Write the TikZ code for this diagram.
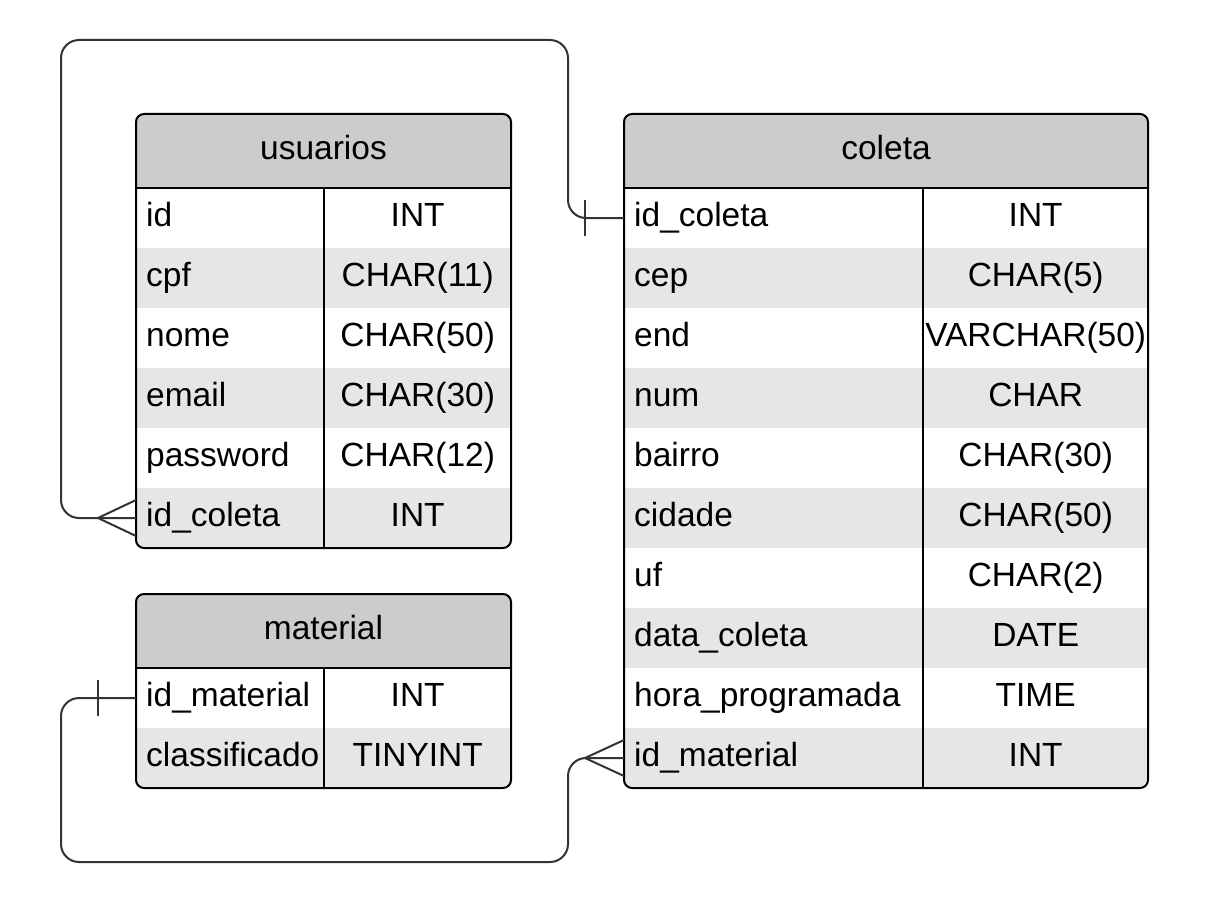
\documentclass[tikz,border=0pt]{standalone}
\usepackage{fontspec}
\setmainfont{Liberation Sans}
\definecolor{hdr}{HTML}{CCCCCC}
\definecolor{alt}{HTML}{E6E6E6}
\definecolor{conn}{HTML}{333333}
\newcommand\cellfont{\fontsize{33.5}{40}\selectfont}
\begin{document}
\begin{tikzpicture}[x=1pt,y=-1pt,
  lcell/.style={anchor=west, inner xsep=10pt, inner ysep=0pt, minimum height=60pt, text height=24pt, text depth=6.5pt, align=left, font=\cellfont},
  rcell/.style={anchor=west, inner sep=0pt, minimum height=60pt, text height=24pt, text depth=6.5pt, font=\cellfont},
  hcell/.style={fill=hdr, inner sep=0pt, minimum height=74pt, text height=24pt, text depth=6.5pt, font=\cellfont},
  tblline/.style={draw=black, line width=2pt},
  connline/.style={draw=conn, line width=2pt},
]
\useasboundingbox (0,0) rectangle (1206,923);

% ---------- usuarios ----------
\begin{scope}
\clip[rounded corners=8pt] (136,114) rectangle (511,548);
\node[hcell, minimum width=375pt] (usuarios) at (323.5,151) {usuarios};
\foreach \a/\b/\f [count=\i] in {id/INT/white, cpf/CHAR(11)/alt, nome/CHAR(50)/white, email/CHAR(30)/alt, password/CHAR(12)/white, id\_coleta/INT/alt}{
  \node[lcell, fill=\f, text width=168pt] (u\i) at (136,{158+60*\i}) {\a};
  \node[rcell, fill=\f, minimum width=187pt] (u\i t) at (324,{158+60*\i}) {\b};
}
\end{scope}
\draw[tblline, rounded corners=8pt] (136,114) rectangle (511,548);
\draw[tblline] (136,188) -- (511,188);
\draw[tblline] (324,188) -- (324,548);

% ---------- material ----------
\begin{scope}
\clip[rounded corners=8pt] (136,594) rectangle (511,788);
\node[hcell, minimum width=375pt] (material) at (323.5,631) {material};
\foreach \a/\b/\f [count=\i] in {id\_material/INT/white, classificado/TINYINT/alt}{
  \node[lcell, fill=\f, text width=168pt] (m\i) at (136,{638+60*\i}) {\a};
  \node[rcell, fill=\f, minimum width=187pt] (m\i t) at (324,{638+60*\i}) {\b};
}
\end{scope}
\draw[tblline, rounded corners=8pt] (136,594) rectangle (511,788);
\draw[tblline] (136,668) -- (511,668);
\draw[tblline] (324,668) -- (324,788);

% ---------- coleta ----------
\begin{scope}
\clip[rounded corners=8pt] (624,114) rectangle (1148,788);
\node[hcell, minimum width=524pt] (coleta) at (886,151) {coleta};
\foreach \a/\b/\f [count=\i] in {id\_coleta/INT/white, cep/CHAR(5)/alt, end/VARCHAR(50)/white, num/CHAR/alt, bairro/CHAR(30)/white, cidade/CHAR(50)/alt, uf/CHAR(2)/white, data\_coleta/DATE/alt, hora\_programada/TIME/white, id\_material/INT/alt}{
  \node[lcell, fill=\f, text width=279pt] (c\i) at (624,{158+60*\i}) {\a};
  \node[rcell, fill=\f, minimum width=225pt] (c\i t) at (923,{158+60*\i}) {\b};
}
\end{scope}
\draw[tblline, rounded corners=8pt] (624,114) rectangle (1148,788);
\draw[tblline] (624,188) -- (1148,188);
\draw[tblline] (923,188) -- (923,788);

% ---------- connectors ----------
\draw[connline, rounded corners=18pt] (u6.west) -- (61,518) -- (61,40) -- (568,40) -- (568,218) -- (c1.west);
\draw[connline] ([yshift=18pt]u6.west) -- ([xshift=-38pt]u6.west) -- ([yshift=-18pt]u6.west);
\draw[connline] ([xshift=-39pt,yshift=18pt]c1.west) -- ([xshift=-39pt,yshift=-18pt]c1.west);

\draw[connline, rounded corners=18pt] (m1.west) -- (61,698) -- (61,862) -- (568,862) -- (568,758) -- (c10.west);
\draw[connline] ([xshift=-38pt,yshift=18pt]m1.west) -- ([xshift=-38pt,yshift=-18pt]m1.west);
\draw[connline] ([yshift=18pt]c10.west) -- ([xshift=-39pt]c10.west) -- ([yshift=-18pt]c10.west);
\end{tikzpicture}
\end{document}
